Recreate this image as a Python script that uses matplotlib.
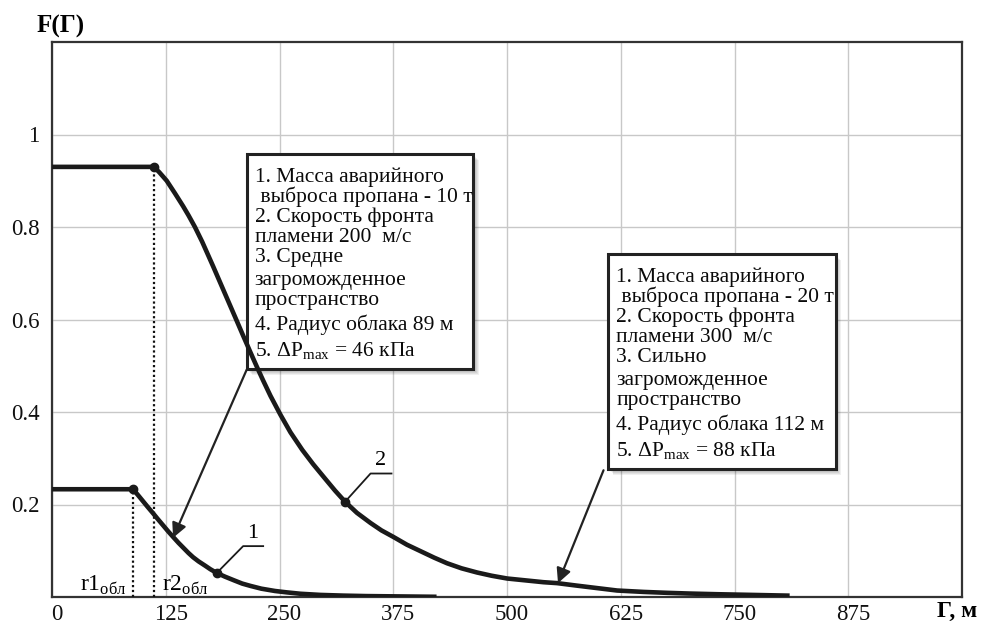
import matplotlib
matplotlib.use('Agg')
import matplotlib.pyplot as plt
import matplotlib.transforms as mtransforms
from matplotlib.patches import Rectangle

plt.rcParams['font.family'] = ['Liberation Serif', 'DejaVu Serif']
plt.rcParams['mathtext.fontset'] = 'custom'
plt.rcParams['mathtext.rm'] = 'Liberation Serif'

# кривая 1: 10 т пропана, радиус облака 89 м
r1 = [0, 89, 95, 100, 105, 111, 116, 122, 128, 133, 139, 145, 150, 155, 161,
      168, 174, 181, 190, 200, 209, 218, 230, 245, 258, 273, 295, 320, 345, 370, 420]
f1 = [0.233, 0.233, 0.219, 0.207, 0.195, 0.181, 0.169, 0.155, 0.141, 0.130,
      0.117, 0.105, 0.095, 0.086, 0.077, 0.068, 0.060, 0.052, 0.044, 0.036,
      0.029, 0.024, 0.018, 0.013, 0.010, 0.007, 0.0045, 0.003, 0.002, 0.0015, 0.0005]
mark1 = 17  # индекс точки с номером кривой

# кривая 2: 20 т пропана, радиус облака 112 м
r2 = [0, 112, 118, 126, 135, 144, 150, 157, 165, 177, 190, 203, 210, 218, 225,
      232, 240, 251, 262, 275, 287, 300, 311, 322, 335, 350, 362, 375, 390, 405,
      420, 434, 450, 467, 483, 500, 520, 540, 555, 575, 600, 621, 650, 676, 700,
      731, 770, 808]
f2 = [0.93, 0.93, 0.918, 0.900, 0.873, 0.845, 0.825, 0.800, 0.768, 0.715,
      0.656, 0.597, 0.565, 0.529, 0.498, 0.468, 0.435, 0.394, 0.356, 0.318,
      0.287, 0.256, 0.230, 0.206, 0.182, 0.160, 0.144, 0.130, 0.113, 0.099,
      0.085, 0.073, 0.062, 0.053, 0.046, 0.040, 0.036, 0.032, 0.030, 0.025,
      0.019, 0.014, 0.011, 0.009, 0.0075, 0.006, 0.0045, 0.003]
mark2 = 23

x_ticks = [0, 125, 250, 375, 500, 625, 750, 875]
y_ticks = [0.2, 0.4, 0.6, 0.8, 1.0]
y_ticklabels = ['0.2', '0.4', '0.6', '0.8', '1']

box1_lines = ['1. Масса аварийного', ' выброса пропана - 10 т', '2. Скорость фронта',
              'пламени 200  м/с', '3. Средне', 'загроможденное', 'пространство',
              '4. Радиус облака 89 м', r'5. ΔP$_{\mathregular{max}}$ = 46 кПа']
box2_lines = ['1. Масса аварийного', ' выброса пропана - 20 т', '2. Скорость фронта',
              'пламени 300  м/с', '3. Сильно', 'загроможденное', 'пространство',
              '4. Радиус облака 112 м', r'5. ΔP$_{\mathregular{max}}$ = 88 кПа']

fig = plt.figure(figsize=(9.82, 6.25), dpi=100)
ax = fig.add_axes([0.053, 0.0448, 0.9267, 0.888])
ax.set_xlim(0, 1000)
ax.set_ylim(0, 1.2)

ax.set_xticks(x_ticks)
ax.set_xticklabels([str(v) for v in x_ticks])
ax.set_yticks(y_ticks)
ax.set_yticklabels(y_ticklabels)
ax.tick_params(length=0, labelsize=16.5, colors='#111111')
ax.tick_params(axis='y', pad=9)
ax.tick_params(axis='x', pad=5)
shift = mtransforms.ScaledTranslation(5 / 100, 0, fig.dpi_scale_trans)
for lab in ax.get_xticklabels():
    lab.set_transform(lab.get_transform() + shift)

ax.grid(True, color='#c8c8c8', lw=1)
for s in ax.spines.values():
    s.set_color('#333333')
    s.set_linewidth(1.6)

# пунктирные отметки радиусов облака
ax.plot([r1[1], r1[1]], [0, f1[1]], color='#111111', lw=1.6, ls=(0, (1, 1.2)), zorder=3)
ax.plot([r2[1], r2[1]], [0, f2[1]], color='#111111', lw=1.6, ls=(0, (1, 1.2)), zorder=3)

ax.plot(r1, f1, color='#1a1a1a', lw=3.3, solid_joinstyle='round', zorder=5)
ax.plot(r2, f2, color='#1a1a1a', lw=3.3, solid_joinstyle='round', zorder=5)
ax.plot([r1[1], r1[mark1], r2[1], r2[mark2]], [f1[1], f1[mark1], f2[1], f2[mark2]],
        'o', color='#1a1a1a', ms=6, zorder=6)

# выноски номеров кривых
ax.plot([r1[mark1], 210, 232], [f1[mark1], 0.110, 0.110], color='#1a1a1a', lw=1.3, zorder=6)
ax.text(221, 0.117, '1', fontsize=16, ha='center', va='bottom')
ax.plot([r2[mark2], 350, 373], [f2[mark2], 0.267, 0.267], color='#1a1a1a', lw=1.3, zorder=6)
ax.text(361, 0.274, '2', fontsize=16, ha='center', va='bottom')

ax.text(31, 0.013, r'r1$_{\mathregular{обл}}$', fontsize=17, ha='left', va='baseline')
ax.text(121, 0.013, r'r2$_{\mathregular{обл}}$', fontsize=17, ha='left', va='baseline')


def info_box(x0, x1, y0, y1, lines):
    # мягкая тень под рамкой
    for k in range(1, 7):
        off = mtransforms.offset_copy(ax.transData, fig=fig, x=k * 0.9, y=-k * 0.9,
                                      units='dots')
        ax.add_patch(Rectangle((x0, y0), x1 - x0, y1 - y0, transform=off,
                               facecolor='#000000', edgecolor='none', alpha=0.06,
                               zorder=3.5))
    ax.add_patch(Rectangle((x0, y0), x1 - x0, y1 - y0, facecolor='white',
                           edgecolor='#222222', lw=2.2, zorder=4))
    baselines = [28, 48, 68, 88, 108, 131, 151, 176, 202]
    for text, dy in zip(lines, baselines):
        ax.annotate(text, xy=(x0, y1), xycoords='data', xytext=(8, -dy),
                    textcoords='offset pixels', fontsize=15.5, ha='left',
                    va='baseline', color='#0a0a0a', zorder=7)


info_box(214, 463, 0.492, 0.957, box1_lines)
info_box(611, 861, 0.276, 0.741, box2_lines)

arrow = dict(arrowstyle='-|>', color='#222222', lw=1.6, mutation_scale=22,
             shrinkA=0, shrinkB=0)
ax.annotate('', xy=(133, 0.128), xytext=(214, 0.492), arrowprops=arrow, zorder=6)
ax.annotate('', xy=(556, 0.030), xytext=(606, 0.274), arrowprops=arrow, zorder=6)

fig.text(0.0377, 0.957, 'F(Г)', fontsize=18, fontweight='bold', ha='left', va='center')
ax.text(995, -0.032, 'Г, м', fontsize=17, fontweight='bold', ha='center', va='center',
        clip_on=False)

fig.savefig('out.png', dpi=100)
